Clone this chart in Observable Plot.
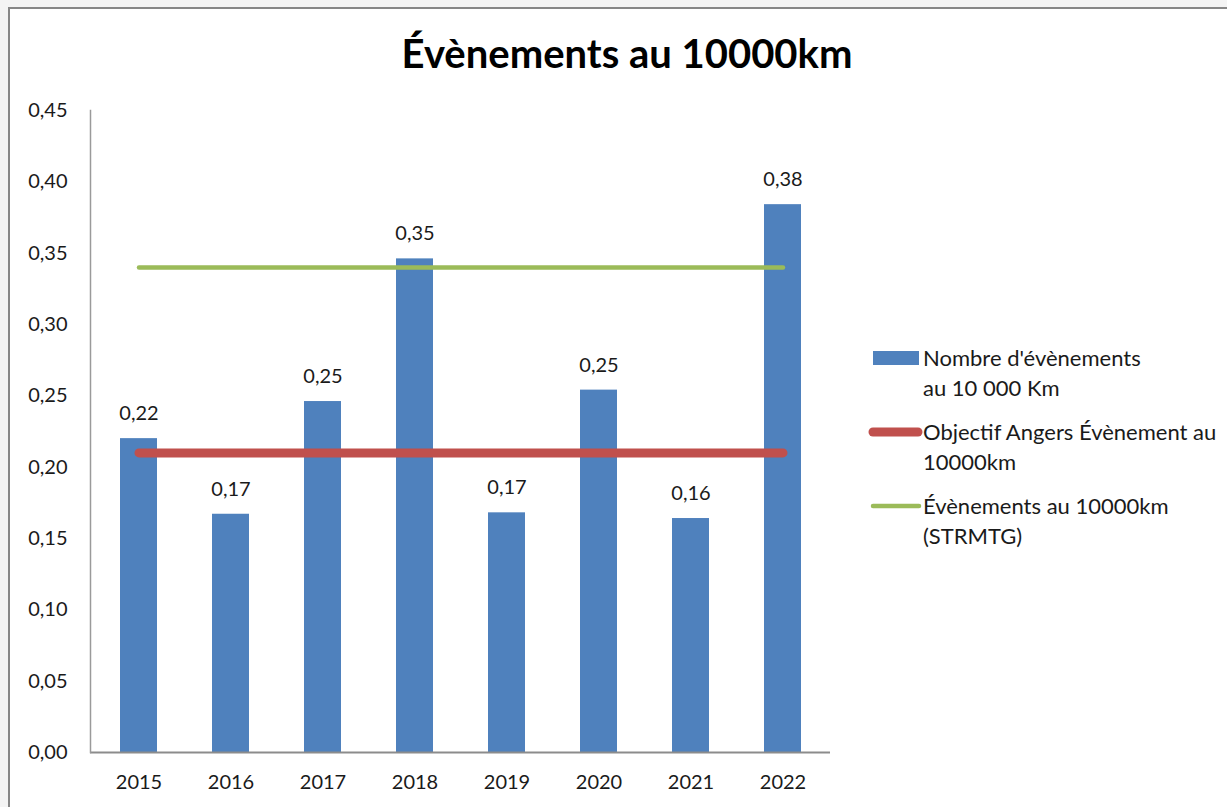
<!DOCTYPE html>
<html><head><meta charset="utf-8">
<script src="https://cdn.jsdelivr.net/npm/d3@7"></script>
<script src="https://cdn.jsdelivr.net/npm/@observablehq/plot@0.6"></script>
<style>
body{margin:0;background:#f4f4f4;font-family:Lato,"Open Sans",sans-serif;overflow:hidden}
#wrap{position:relative;width:1227px;height:807px;overflow:hidden}
#card{position:absolute;left:8px;top:7px;width:1300px;height:900px;background:#fff;border:2px solid #878787;box-sizing:border-box}
#title{position:absolute;left:0;width:1254px;top:28px;text-align:center;font-weight:bold;font-size:40px;color:#000;line-height:50px}
#chart{position:absolute;left:0;top:0}
#legend{position:absolute;left:868px;top:343px;font-size:22px;color:#1a1a1a;display:flex;flex-direction:column;gap:14px}
.item{display:flex;align-items:flex-start}
.sw{width:55px;height:30px;display:flex;align-items:center;justify-content:center;flex:none}
.txt{line-height:30px;white-space:nowrap}
</style>
</head><body>
<div id="wrap">
  <div id="card"></div>
  <div id="title"></div>
  <div id="chart"></div>
  <div id="legend"></div>
</div>
<script>
const titleText = "Évènements au 10000km";
const years = ["2015","2016","2017","2018","2019","2020","2021","2022"];
const events = [0.22, 0.167, 0.246, 0.346, 0.168, 0.254, 0.164, 0.384];
const objectifAngers = 0.21;
const strmtg = 0.34;
const yTicks = [0, 0.05, 0.10, 0.15, 0.20, 0.25, 0.30, 0.35, 0.40, 0.45];
const legendLabels = [
  ["Nombre d'évènements", "au 10 000 Km"],
  ["Objectif Angers Évènement au", "10000km"],
  ["Évènements au 10000km", "(STRMTG)"]
];
const colors = {bar: "#4F81BD", red: "#C0504D", green: "#9BBB59"};

const fmt = d => d.toFixed(2).replace(".", ",");
const data = years.map((y, i) => ({year: y, value: events[i]}));

document.getElementById("title").textContent = titleText;

const chart = Plot.plot({
  width: 1227,
  height: 807,
  marginLeft: 90,
  marginRight: 397,
  marginTop: 110,
  marginBottom: 55,
  style: {background: "transparent", fontFamily: "Lato, 'Open Sans', sans-serif", fontSize: "20px", color: "#1a1a1a"},
  x: {domain: years, paddingInner: 0.6, paddingOuter: 0.3, label: null},
  y: {domain: [0, 0.45], label: null},
  marks: [
    Plot.barY(data, {x: "year", y: "value", fill: colors.bar}),
    Plot.ruleY([0], {stroke: "#8c8c8c", strokeWidth: 2}),
    Plot.frame({anchor: "left", stroke: "#9a9a9a", strokeWidth: 1.5}),
    Plot.lineY(years, {x: d => d, y: () => objectifAngers, stroke: colors.red, strokeWidth: 9, strokeLinecap: "round"}),
    Plot.lineY(years, {x: d => d, y: () => strmtg, stroke: colors.green, strokeWidth: 4.5, strokeLinecap: "round"}),
    Plot.text(data, {x: "year", y: "value", text: d => fmt(d.value), dy: -25, fontSize: 20, fill: "#1a1a1a"}),
    Plot.axisX({tickSize: 0, tickPadding: 22, fontSize: 20}),
    Plot.axisY({ticks: yTicks, tickSize: 0, tickPadding: 23, tickFormat: fmt, fontSize: 20})
  ]
});
document.getElementById("chart").appendChild(chart);

const legend = document.getElementById("legend");
const swatches = [
  `<svg width="55" height="14"><rect x="5" y="0" width="46" height="14" fill="${colors.bar}"/></svg>`,
  `<svg width="55" height="12"><line x1="5" y1="6" x2="50" y2="6" stroke="${colors.red}" stroke-width="9" stroke-linecap="round"/></svg>`,
  `<svg width="55" height="8"><line x1="5" y1="4" x2="51" y2="4" stroke="${colors.green}" stroke-width="4.5" stroke-linecap="round"/></svg>`
];
legendLabels.forEach((lines, i) => {
  const item = document.createElement("div");
  item.className = "item";
  const sw = document.createElement("div");
  sw.className = "sw";
  sw.innerHTML = swatches[i];
  const txt = document.createElement("div");
  txt.className = "txt";
  lines.forEach((l, j) => {
    if (j) txt.appendChild(document.createElement("br"));
    txt.appendChild(document.createTextNode(l));
  });
  item.appendChild(sw);
  item.appendChild(txt);
  legend.appendChild(item);
});
</script>
</body></html>
